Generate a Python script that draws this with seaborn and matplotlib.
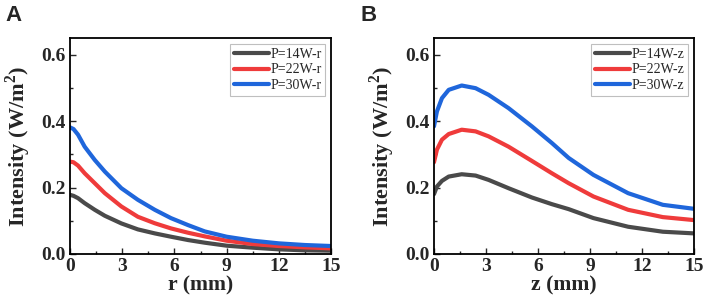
import numpy as np
import pandas as pd
import matplotlib
matplotlib.use("Agg")
import matplotlib.pyplot as plt
import seaborn as sns
from matplotlib.ticker import MultipleLocator

# ---- data ----
r_pos = [0, 0.2, 0.46, 0.84, 1.42, 2.0, 2.95, 3.9, 4.87, 5.8, 6.78, 7.74, 9, 10.5, 12, 13.5, 15]
r_14 = [0.178, 0.175, 0.168, 0.153, 0.133, 0.115, 0.092, 0.074, 0.062, 0.052, 0.042, 0.034, 0.025, 0.019, 0.014, 0.011, 0.010]
r_22 = [0.278, 0.276, 0.266, 0.243, 0.213, 0.183, 0.143, 0.112, 0.0925, 0.077, 0.064, 0.053, 0.040, 0.030, 0.024, 0.020, 0.017]
r_30 = [0.381, 0.376, 0.359, 0.323, 0.283, 0.248, 0.198, 0.163, 0.133, 0.108, 0.087, 0.068, 0.052, 0.040, 0.032, 0.027, 0.024]

z_pos = [0, 0.17, 0.46, 0.85, 1.6, 2.4, 3.15, 4.3, 5.65, 6.8, 7.77, 9.2, 11.2, 13.2, 15]
z_14 = [0.180, 0.203, 0.220, 0.233, 0.240, 0.236, 0.223, 0.198, 0.170, 0.150, 0.135, 0.108, 0.082, 0.067, 0.062]
z_22 = [0.276, 0.314, 0.344, 0.361, 0.374, 0.369, 0.354, 0.323, 0.280, 0.243, 0.213, 0.173, 0.133, 0.111, 0.102]
z_30 = [0.384, 0.429, 0.469, 0.494, 0.507, 0.499, 0.479, 0.439, 0.384, 0.334, 0.289, 0.238, 0.183, 0.148, 0.136]

r_labels = ["P=14W-r", "P=22W-r", "P=30W-r"]
z_labels = ["P=14W-z", "P=22W-z", "P=30W-z"]
colors = ["#4a4a4a", "#ef3b3b", "#1f66db"]


def long_df(xs, ys_list, labels):
    return pd.DataFrame({
        "x": list(xs) * len(ys_list),
        "y": [v for ys in ys_list for v in ys],
        "series": [lab for lab in labels for _ in xs],
    })


df_r = long_df(r_pos, [r_14, r_22, r_30], r_labels)
df_z = long_df(z_pos, [z_14, z_22, z_30], z_labels)

sns.set_style("ticks")
plt.rcParams["font.family"] = ["Liberation Serif", "DejaVu Serif"]
plt.rcParams["mathtext.fontset"] = "custom"
plt.rcParams["mathtext.rm"] = "Liberation Serif"
plt.rcParams["mathtext.bf"] = "Liberation Serif:bold"

fig = plt.figure(figsize=(7.06, 3.04), dpi=100)
axA = fig.add_axes([0.0992, 0.1645, 0.3697, 0.7105])
axB = fig.add_axes([0.6147, 0.1645, 0.3683, 0.7105])

for ax, df, labels, xl, letter, lx in [
    (axA, df_r, r_labels, "r (mm)", "A", 0.008),
    (axB, df_z, z_labels, "z (mm)", "B", 0.511),
]:
    sns.lineplot(data=df, x="x", y="y", hue="series", hue_order=labels,
                 palette=colors, linewidth=3.0, ax=ax, legend=True)
    ax.set_xlim(0, 15)
    ax.set_ylim(0, 0.65)
    ax.xaxis.set_major_locator(MultipleLocator(3))
    ax.xaxis.set_minor_locator(MultipleLocator(1.5))
    ax.yaxis.set_major_locator(MultipleLocator(0.2))
    ax.yaxis.set_minor_locator(MultipleLocator(0.1))
    ax.tick_params(which="both", direction="in", top=False, right=False,
                   width=1.0)
    ax.tick_params(which="major", length=4, labelsize=14, pad=3)
    ax.tick_params(which="minor", length=2.5)
    for lab in ax.get_xticklabels() + ax.get_yticklabels():
        lab.set_fontweight("bold")
    for s in ax.spines.values():
        s.set_linewidth(1.3)
        s.set_color("black")
    ax.set_xlabel(xl, fontsize=15.7, fontweight="bold", labelpad=0)
    ax.set_ylabel(r"Intensity (W/m$^{\mathbf{2}}$)", fontsize=16,
                  fontweight="bold", labelpad=6)
    leg = ax.legend(loc="upper right", fontsize=10, handlelength=2.5,
                    handletextpad=0.1, borderpad=0.3, labelspacing=0.2,
                    fancybox=False, frameon=True, borderaxespad=0.4)
    leg.get_frame().set_edgecolor("#b0b0b0")
    leg.get_frame().set_linewidth(0.8)
    for h in leg.get_lines():
        h.set_linewidth(3.0)
    fig.text(lx, 0.985, letter, fontsize=16, fontweight="bold",
             family=["Liberation Sans", "DejaVu Sans"], va="top", ha="left")

fig.savefig("out.png", dpi=100)
